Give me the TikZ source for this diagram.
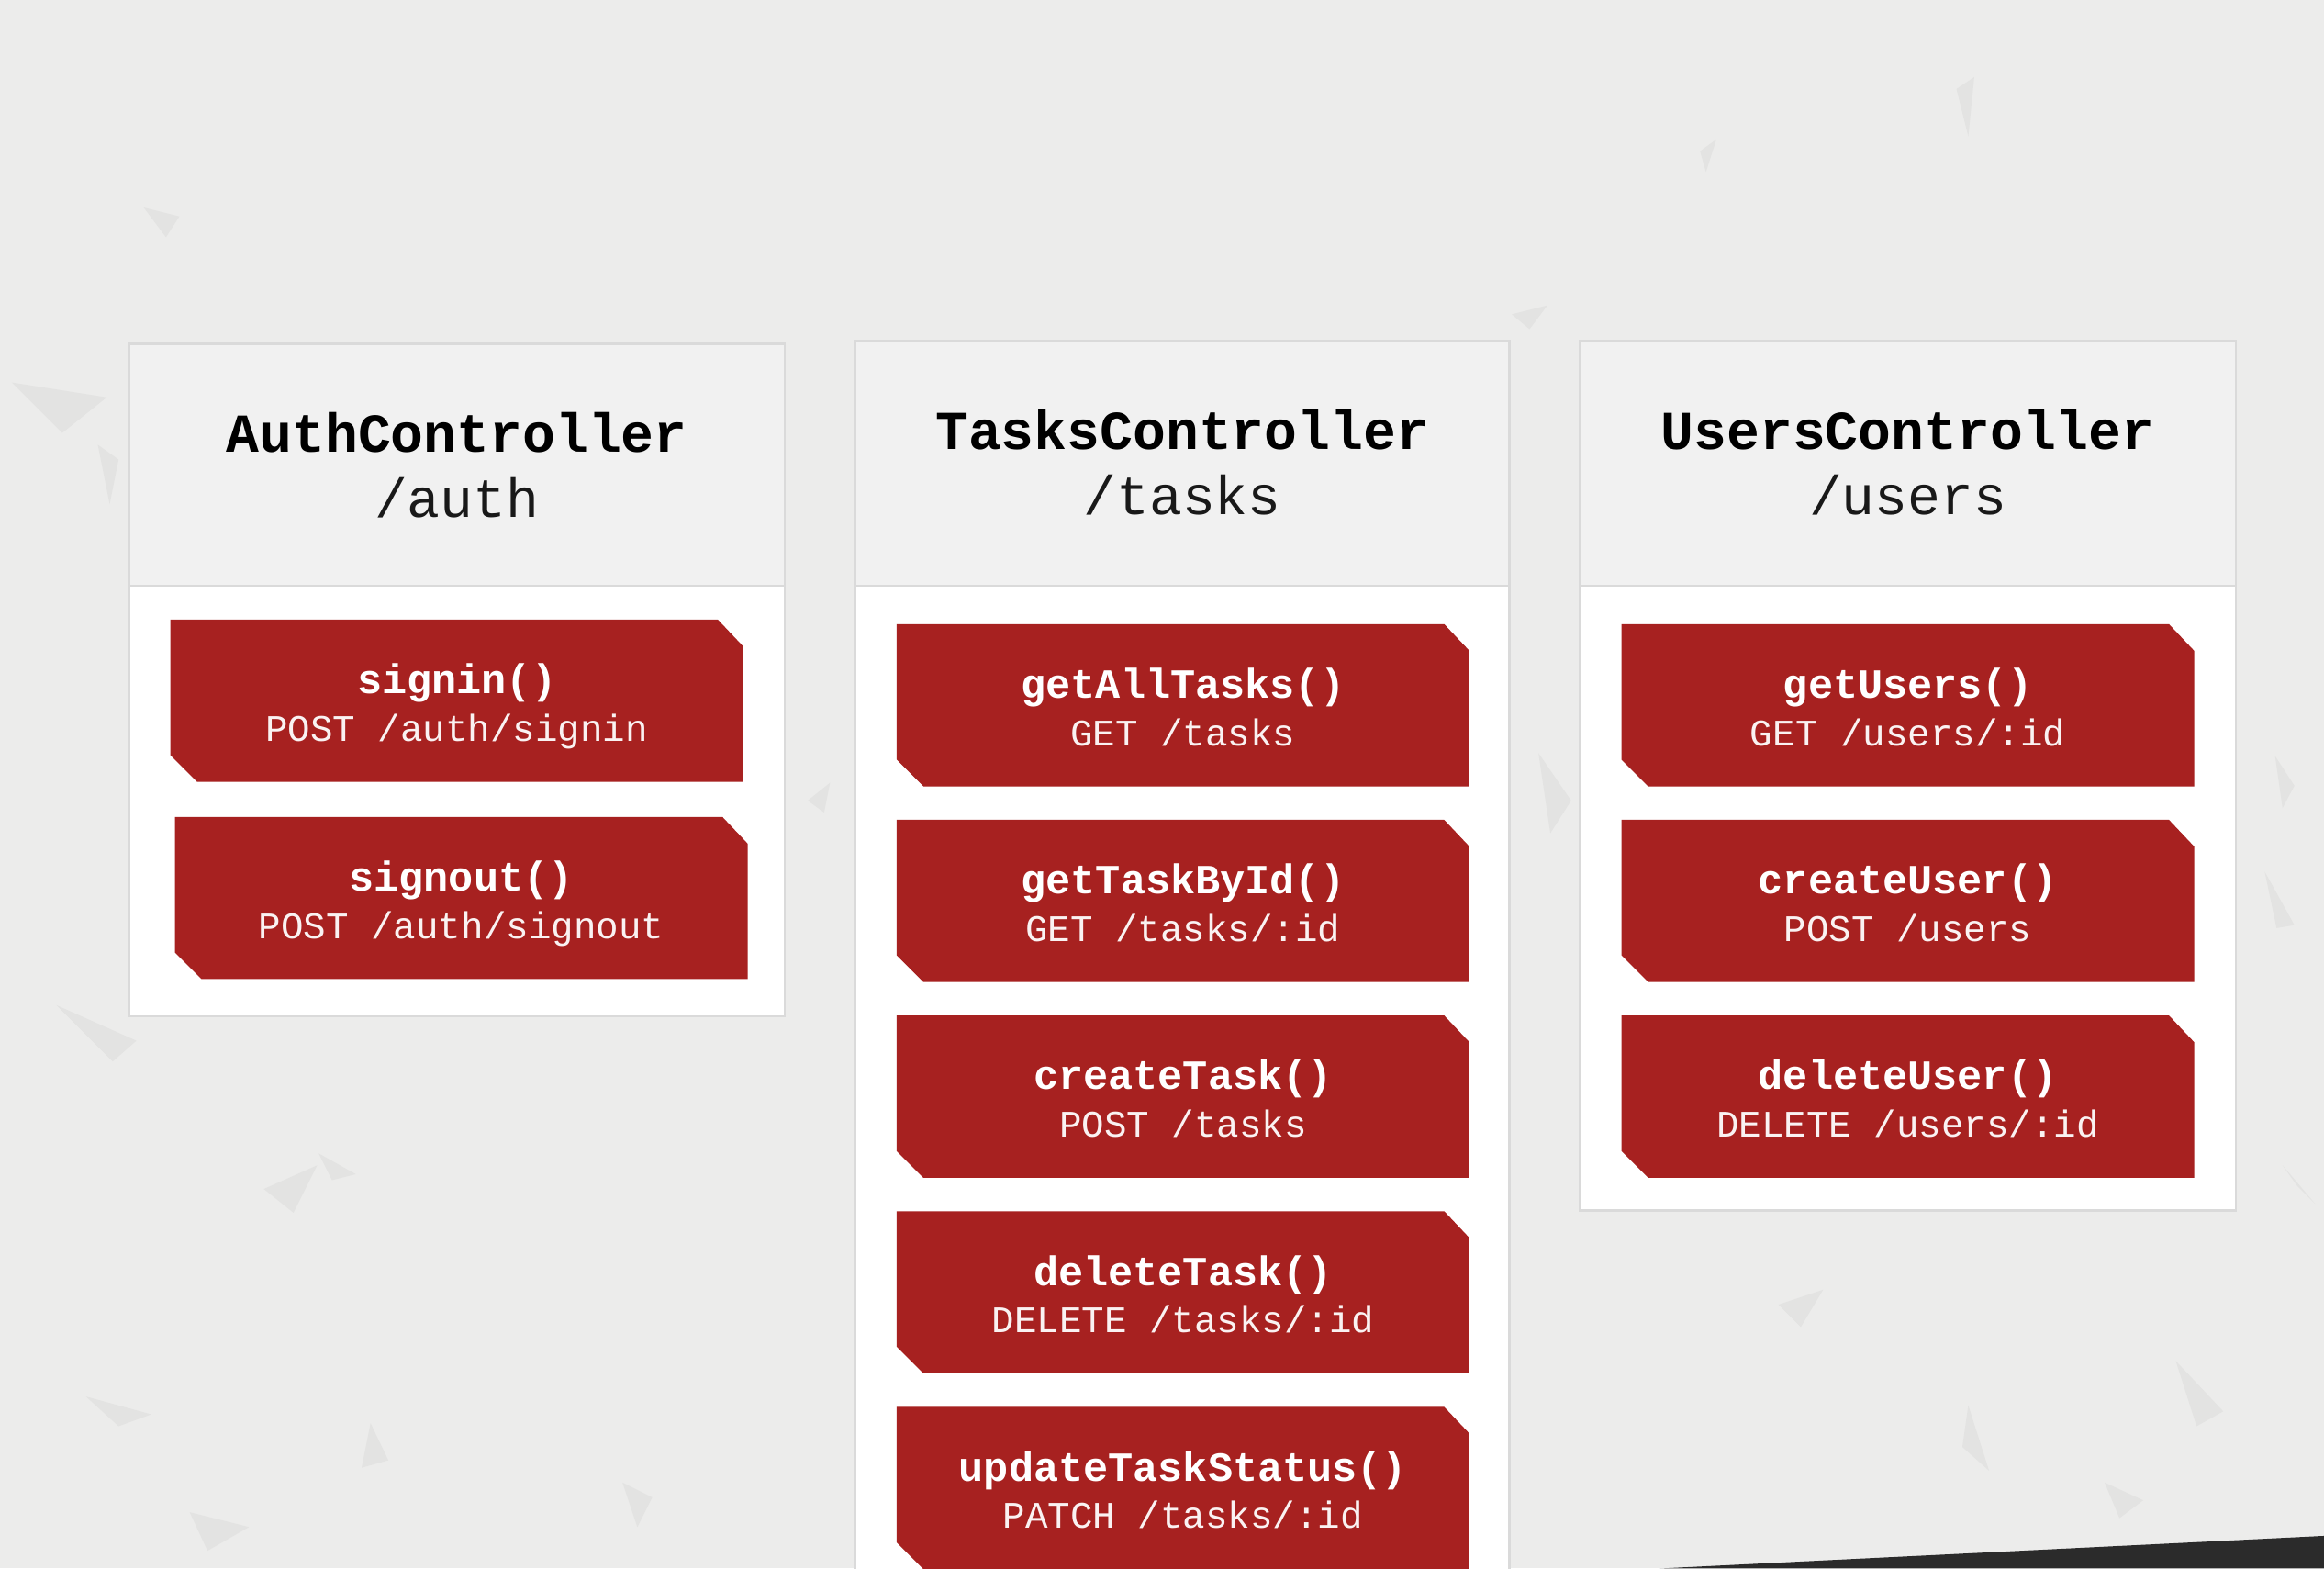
\documentclass[tikz,border=0pt]{standalone}
\usepackage{fontspec}
\newfontfamily\monofont{Liberation Mono}
\usetikzlibrary{calc}
\definecolor{bg}{HTML}{ECECEB}
\definecolor{shard}{HTML}{E3E3E2}
\definecolor{darkwedge}{HTML}{2B2B2B}
\definecolor{headfill}{HTML}{F1F1F1}
\definecolor{panelline}{HTML}{DADADA}
\definecolor{boxred}{HTML}{A72120}
\tikzset{
  panelbody/.style={rectangle, fill=white, draw=none, inner sep=0pt, anchor=north west},
  mbox/.style={rectangle, draw=none, inner sep=0pt, minimum width=386pt, minimum height=109pt, anchor=north west},
  titletext/.style={font=\monofont\bfseries\fontsize{37}{40}\selectfont, text=black, inner sep=0pt, anchor=base},
  pathtext/.style={font=\monofont\fontsize{37}{40}\selectfont, text=black!90, inner sep=0pt, anchor=base},
  nametext/.style={font=\monofont\bfseries\fontsize{28}{30}\selectfont, text=white, inner sep=0pt, anchor=base},
  routetext/.style={font=\monofont\fontsize{25.3}{28}\selectfont, text=white!94!boxred, inner sep=0pt, anchor=base},
  shardfill/.style={fill=shard}
}
\newcommand\mthd[5]{%
  \node[mbox] (#1) at (#2,#3) {};
  \fill[boxred] (#1.north west) -- ([xshift=-17pt]#1.north east) -- ([yshift=-18pt]#1.north east)
     -- (#1.south east) -- ([xshift=18pt]#1.south west) -- ([yshift=18pt]#1.south west) -- cycle;
  \node[nametext] (#1n) at ([yshift=-50pt]#1.north) {#4};
  \node[routetext] (#1r) at ([yshift=-82pt]#1.north) {#5};
}
\newcommand\ctrlpanel[8]{%
  % #1 name, #2 x, #3 y, #4 width, #5 height, #6 header height, #7 title, #8 path
  \node[panelbody, minimum width=#4pt, minimum height=#5pt] (#1) at (#2,#3) {};
  \fill[headfill] (#1.north west) rectangle ([yshift=-#6pt]#1.north east);
  \draw[panelline, line width=1.6pt] ([yshift=-#6pt]#1.north west) -- ([yshift=-#6pt]#1.north east);
  \draw[panelline, line width=1.6pt] (#1.north west) rectangle (#1.south east);
  \node[titletext] (#1t) at ([yshift=-73pt]#1.north) {#7};
  \node[pathtext] (#1p) at ([yshift=-117pt]#1.north) {#8};
}
\begin{document}
\begin{tikzpicture}[x=1pt,y=-1pt]
\clip (0,0) rectangle (1568,1058);
\fill[bg] (0,0) rectangle (1568,1058);
% background shards
\fill[shardfill] (97,140) -- (121,146) -- (112,160) -- cycle;
\fill[shardfill] (1320,60) -- (1332,52) -- (1328,92) -- cycle;
\fill[shardfill] (1147,102) -- (1158,94) -- (1151,116) -- cycle;
\fill[shardfill] (8,258) -- (72,268) -- (42,292) -- cycle;
\fill[shardfill] (66,300) -- (80,310) -- (74,340) -- cycle;
\fill[shardfill] (38,678) -- (92,702) -- (76,716) -- cycle;
\fill[shardfill] (178,802) -- (214,786) -- (198,818) -- cycle;
\fill[shardfill] (215,778) -- (240,792) -- (224,796) -- cycle;
\fill[shardfill] (58,942) -- (102,954) -- (80,962) -- cycle;
\fill[shardfill] (128,1020) -- (168,1030) -- (140,1046) -- cycle;
\fill[shardfill] (1328,948) -- (1342,992) -- (1324,976) -- cycle;
\fill[shardfill] (1468,918) -- (1500,952) -- (1482,962) -- cycle;
\fill[shardfill] (1540,786) -- (1562,812) -- (1550,800) -- cycle;
\fill[shardfill] (1038,508) -- (1060,540) -- (1046,562) -- cycle;
\fill[shardfill] (1528,588) -- (1548,624) -- (1536,626) -- cycle;
\fill[shardfill] (1020,212) -- (1044,206) -- (1032,222) -- cycle;
\fill[shardfill] (1420,1000) -- (1446,1012) -- (1430,1024) -- cycle;
\fill[shardfill] (250,960) -- (262,985) -- (244,990) -- cycle;
\fill[shardfill] (420,1000) -- (440,1010) -- (430,1030) -- cycle;
\fill[shardfill] (1200,880) -- (1230,870) -- (1215,895) -- cycle;
\fill[shardfill] (1535,510) -- (1548,530) -- (1540,545) -- cycle;
\fill[shardfill] (545,540) -- (560,528) -- (556,548) -- cycle;
% dark wedge bottom right
\fill[darkwedge] (1120,1058) -- (1568,1036) -- (1568,1058) -- cycle;
% panels
\ctrlpanel{auth}{87}{232}{442}{453}{163}{AuthController}{/auth}
\ctrlpanel{tasks}{577}{230}{441}{900}{165}{TasksController}{/tasks}
\ctrlpanel{users}{1066}{230}{442}{586}{165}{UsersController}{/users}
% auth methods
\mthd{signin}{115}{418}{signin()}{POST /auth/signin}
\mthd{signout}{118}{551}{signout()}{POST /auth/signout}
% tasks methods
\mthd{getall}{605}{421}{getAllTasks()}{GET /tasks}
\mthd{getbyid}{605}{553}{getTaskById()}{GET /tasks/:id}
\mthd{createtask}{605}{685}{createTask()}{POST /tasks}
\mthd{deletetask}{605}{817}{deleteTask()}{DELETE /tasks/:id}
\mthd{updatestatus}{605}{949}{updateTaskStatus()}{PATCH /tasks/:id}
% users methods
\mthd{getusers}{1094}{421}{getUsers()}{GET /users/:id}
\mthd{createuser}{1094}{553}{createUser()}{POST /users}
\mthd{deleteuser}{1094}{685}{deleteUser()}{DELETE /users/:id}
\end{tikzpicture}
\end{document}
